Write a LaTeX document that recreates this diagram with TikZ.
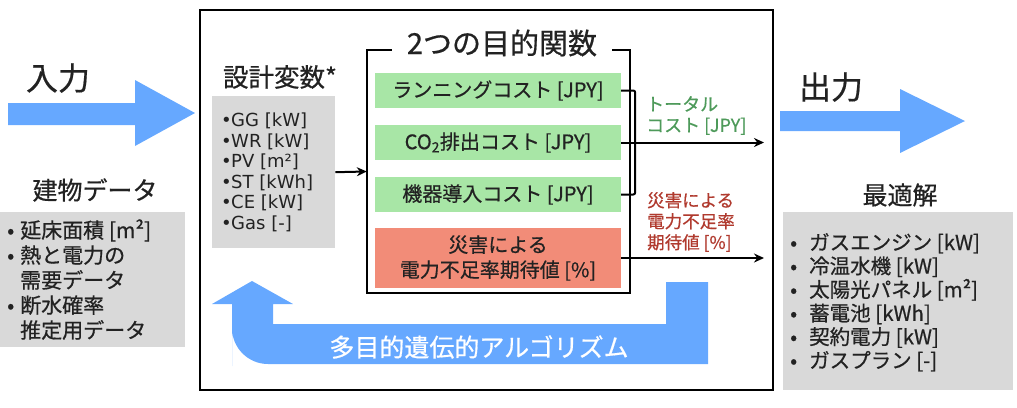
\documentclass[tikz,border=0pt]{standalone}
\usepackage{fontspec}
\setmainfont{Noto Sans CJK JP}[FakeBold=0.6]
\newfontfamily\dvfont{DejaVu Sans}
\usetikzlibrary{arrows.meta,calc}
\definecolor{arrowblue}{HTML}{66A8FF}
\definecolor{boxgray}{HTML}{D9D9D9}
\definecolor{objgreen}{HTML}{A8E6A6}
\definecolor{objred}{HTML}{F28C78}
\definecolor{txtgreen}{HTML}{4E9A5A}
\definecolor{txtred}{HTML}{B03A2E}
\definecolor{ink}{HTML}{222222}
\newcommand{\fsz}[2]{\fontsize{#1}{#2}\selectfont}
\newcommand{\bul}[1]{\makebox[#1][l]{•}}
\newcommand{\nob}[1]{\makebox[#1][l]{}}
\begin{document}
\begin{tikzpicture}[x=1pt,y=-1pt,
  txt/.style={inner sep=0pt, text=ink},
  graybox/.style={fill=boxgray, draw=none, inner sep=0pt},
  greenbox/.style={fill=objgreen, draw=none, inner sep=0pt, minimum width=246pt, minimum height=35pt, font=\fsz{20}{24}, text=ink},
  redbox/.style={fill=objred, draw=none, inner sep=0pt, minimum width=246pt, minimum height=60pt, font=\fsz{20}{25}, align=center, text=ink},
  bigarrow/.style={fill=arrowblue, draw=none},
  conn/.style={line width=2pt, -{Stealth[length=10pt,width=9pt]}},
  frame/.style={line width=2.4pt},
]
\useasboundingbox (0,0) rectangle (1017,407);

% main frame
\node[frame, draw, minimum width=573pt, minimum height=380pt, inner sep=0pt] (mainframe) at (486.5,200) {};

% input side
\node[txt, font=\fsz{32}{36}] (inlbl) at (58,78) {入力};
\fill[bigarrow] (8,103) -- (135,103) -- (135,80) -- (195,113) -- (135,146) -- (135,125) -- (8,125) -- cycle;
\node[txt, font=\fsz{25}{28}] (bldlbl) at (95,190) {建物データ};
\node[graybox, anchor=north west, minimum width=185pt, minimum height=135pt] (bldbox) at (0,212) {};
\node[txt, anchor=base west, align=left, font=\fsz{21}{25}] (bldtxt) at (7,338)
  {\bul{13pt}延床面積 [m²]\\ \bul{13pt}熱と電力の\\ \nob{13pt}需要データ\\ \bul{13pt}断水確率\\ \nob{13pt}推定用データ};

% design variables
\node[txt, font=\fsz{25.5}{28}] (dvlbl) at (280,77) {設計変数*};
\node[graybox, anchor=north west, minimum width=123pt, minimum height=152pt] (dvbox) at (212,96) {};
\node[txt, anchor=base west, align=left, font=\dvfont\fsz{18}{20.6}] (dvtxt) at (221,229.5)
  {\bul{10pt}GG [kW]\\ \bul{10pt}WR [kW]\\ \bul{10pt}PV [m²]\\ \bul{10pt}ST [kWh]\\ \bul{10pt}CE [kW]\\ \bul{10pt}Gas [-]};

% objectives
\node[inner sep=0pt, minimum width=263pt, minimum height=243pt] (objframe) at (498.5,171.5) {};
\draw[line width=2pt] ($(objframe.north west)+(25,0)$) -- (objframe.north west) -- (objframe.south west) -- (objframe.south east) -- (objframe.north east) -- ++(-18,0);
\node[txt, font=\fsz{29}{32}] (objlbl) at (502,43) {2つの目的関数};
\node[greenbox] (g1) at (498,90.5) {ランニングコスト [JPY]};
\node[greenbox] (g2) at (498,142.5) {CO\textsubscript{2}排出コスト [JPY]};
\node[greenbox] (g3) at (498,194.5) {機器導入コスト [JPY]};
\node[redbox] (r1) at (498,258) {災害による\\電力不足率期待値 [\%]};

\draw[conn] (dvbox.east) -- (objframe.west);
\draw[line width=2pt, rounded corners=2pt] (g1.east) -- ++(14,0) |- (g3.east);
\coordinate (tcend) at (764,142.5);
\coordinate (rend) at (764,258);
\draw[conn] (g2.east) -- (tcend);
\draw[conn] (r1.east) -- (rend);
\node[txt, anchor=north west, align=left, text=txtgreen, font=\fsz{18}{21}] (tclbl) at (646,96) {トータル\\コスト [JPY]};
\node[txt, anchor=north west, align=left, text=txtred, font=\fsz{17.5}{21}] (rlbl) at (647,192) {災害による\\電力不足率\\期待値 [\%]};

% feedback arrow
\fill[bigarrow] (252,281) -- (293,304) -- (273,304) -- (273,324) -- (666,324) -- (666,282) -- (708,282) -- (708,364) [rounded corners=36pt] -- (232,364) -- (232,330) [sharp corners] -- (232,304) -- (212,304) -- cycle;
\node[txt, text=white, font=\fsz{25}{28}] (galbl) at (479,347) {多目的遺伝的アルゴリズム};

% output side
\node[txt, font=\fsz{32}{36}] (outlbl) at (831,87) {出力};
\fill[bigarrow] (780,111) -- (900,111) -- (900,89) -- (965,121) -- (900,153) -- (900,131) -- (780,131) -- cycle;
\node[txt, font=\fsz{25}{28}] (optlbl) at (900,195) {最適解};
\node[graybox, anchor=north west, minimum width=230pt, minimum height=178pt] (optbox) at (783,212) {};
\node[txt, anchor=base west, align=left, font=\fsz{20.5}{23.6}] (opttxt) at (790,368)
  {\bul{19pt}ガスエンジン [kW]\\ \bul{19pt}冷温水機 [kW]\\ \bul{19pt}太陽光パネル [m²]\\ \bul{19pt}蓄電池 [kWh]\\ \bul{19pt}契約電力 [kW]\\ \bul{19pt}ガスプラン [-]};
\end{tikzpicture}
\end{document}
